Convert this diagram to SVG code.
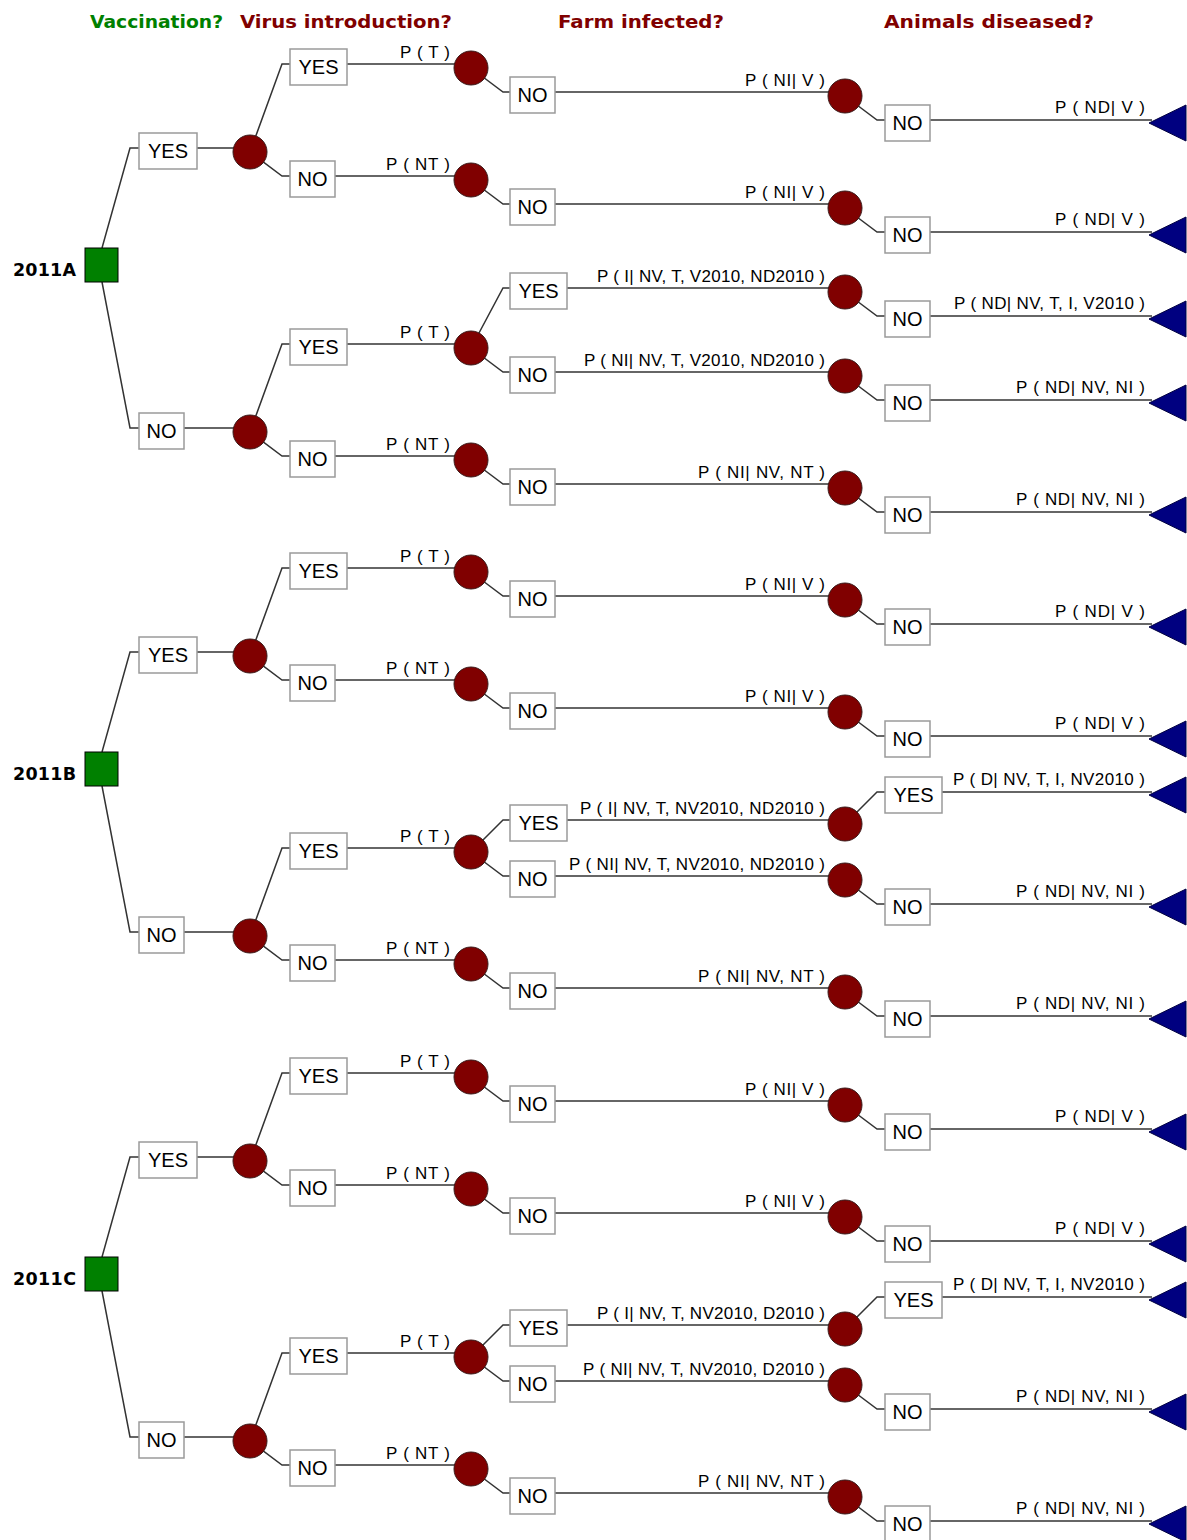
<svg xmlns="http://www.w3.org/2000/svg" width="1187" height="1540" viewBox="0 0 1187 1540">
<style>
.ln{fill:none;stroke:#333;stroke-width:1.5}
.bx{fill:#fff;stroke:#9a9a9a;stroke-width:1.5}
.ch{fill:#800000;stroke:#3a1a1a;stroke-width:1}
.dc{fill:#008000;stroke:#000;stroke-width:1}
.tm{fill:#000080;stroke:#000040;stroke-width:1}
.bt{font-family:"Liberation Sans",Arial,sans-serif;font-size:20px;text-anchor:middle;fill:#000}
.pl{font-family:"Liberation Sans",Arial,sans-serif;font-size:17px;fill:#000}
.hd{font-family:"DejaVu Sans",Verdana,sans-serif;font-weight:bold;font-size:17px}
.yr{font-family:"DejaVu Sans",Verdana,sans-serif;font-weight:bold;font-size:17.5px;fill:#000}
</style>
<defs>
<path id="tri" class="tm" d="M1149,3 L1186,-15 L1186,21 Z"/>
</defs>
<rect width="1187" height="1540" fill="#fff"/>
<g id="headers">
<text class="hd" x="90" y="28" fill="#008000" textLength="133" lengthAdjust="spacingAndGlyphs">Vaccination?</text>
<text class="hd" x="240" y="28" fill="#800000" textLength="212" lengthAdjust="spacingAndGlyphs">Virus introduction?</text>
<text class="hd" x="558" y="28" fill="#800000" textLength="166" lengthAdjust="spacingAndGlyphs">Farm infected?</text>
<text class="hd" x="884" y="28" fill="#800000" textLength="210" lengthAdjust="spacingAndGlyphs">Animals diseased?</text>
</g>

<!-- ================= TREE A ================= -->
<g id="treeA">
<g id="A-connectors">
<polyline class="ln" points="102,248 130,148 139,148"/>
<line class="ln" x1="197" y1="148" x2="250" y2="148"/>
<polyline class="ln" points="102,282 130,428 139,428"/>
<line class="ln" x1="184" y1="428" x2="250" y2="428"/>
<polyline class="ln" points="250,152 282,64 290,64"/>
<line class="ln" x1="347" y1="64" x2="471" y2="64"/>
<polyline class="ln" points="250,152 282,176 290,176"/>
<line class="ln" x1="335" y1="176" x2="471" y2="176"/>
<polyline class="ln" points="471,68 503,92 510,92"/>
<line class="ln" x1="555" y1="92" x2="845" y2="92"/>
<polyline class="ln" points="845,96 877,120 885,120"/>
<line class="ln" x1="930" y1="120" x2="1152" y2="120"/>
<polyline class="ln" points="471,180 503,204 510,204"/>
<line class="ln" x1="555" y1="204" x2="845" y2="204"/>
<polyline class="ln" points="845,208 877,232 885,232"/>
<line class="ln" x1="930" y1="232" x2="1152" y2="232"/>
<polyline class="ln" points="250,432 282,344 290,344"/>
<line class="ln" x1="347" y1="344" x2="471" y2="344"/>
<polyline class="ln" points="250,432 282,456 290,456"/>
<line class="ln" x1="335" y1="456" x2="471" y2="456"/>
<polyline class="ln" points="471,348 503,288 510,288"/>
<line class="ln" x1="567" y1="288" x2="845" y2="288"/>
<polyline class="ln" points="845,292 877,316 885,316"/>
<line class="ln" x1="930" y1="316" x2="1152" y2="316"/>
<polyline class="ln" points="471,348 503,372 510,372"/>
<line class="ln" x1="555" y1="372" x2="845" y2="372"/>
<polyline class="ln" points="845,376 877,400 885,400"/>
<line class="ln" x1="930" y1="400" x2="1152" y2="400"/>
<polyline class="ln" points="471,460 503,484 510,484"/>
<line class="ln" x1="555" y1="484" x2="845" y2="484"/>
<polyline class="ln" points="845,488 877,512 885,512"/>
<line class="ln" x1="930" y1="512" x2="1152" y2="512"/>
<text class="pl" x="400" y="58" textLength="50">P ( T )</text>
<text class="pl" x="386" y="170" textLength="64">P ( NT )</text>
<text class="pl" x="745" y="86" textLength="80">P ( NI| V )</text>
<text class="pl" x="1055" y="113" textLength="90">P ( ND| V )</text>
<text class="pl" x="745" y="198" textLength="80">P ( NI| V )</text>
<text class="pl" x="1055" y="225" textLength="90">P ( ND| V )</text>
<text class="pl" x="400" y="338" textLength="50">P ( T )</text>
<text class="pl" x="386" y="450" textLength="64">P ( NT )</text>
<text class="pl" x="597" y="282" textLength="228">P ( I| NV, T, V2010, ND2010 )</text>
<text class="pl" x="954" y="309" textLength="191">P ( ND| NV, T, I, V2010 )</text>
<text class="pl" x="584" y="366" textLength="241">P ( NI| NV, T, V2010, ND2010 )</text>
<text class="pl" x="1016" y="393" textLength="129">P ( ND| NV, NI )</text>
<text class="pl" x="698" y="478" textLength="127">P ( NI| NV, NT )</text>
<text class="pl" x="1016" y="505" textLength="129">P ( ND| NV, NI )</text>
</g>
<g id="A-root"><rect class="dc" x="85" y="248" width="33" height="34"/><text class="yr" x="13" y="276" textLength="63">2011A</text></g>
<g id="A-vyes"><rect class="bx" x="139" y="133" width="58" height="36"/><text class="bt" x="168" y="158">YES</text></g>
<g id="A-vno"><rect class="bx" x="139" y="413" width="45" height="36"/><text class="bt" x="161.5" y="438">NO</text></g>
<g id="A-c1"><circle class="ch" cx="250" cy="152" r="17"/></g>
<g id="A-c1b"><circle class="ch" cx="250" cy="432" r="17"/></g>
<g id="A-tyes1"><rect class="bx" x="290" y="49" width="57" height="36"/><text class="bt" x="318.5" y="74">YES</text></g>
<g id="A-tno1"><rect class="bx" x="290" y="161" width="45" height="36"/><text class="bt" x="312.5" y="186">NO</text></g>
<g id="A-tyes2"><rect class="bx" x="290" y="329" width="57" height="36"/><text class="bt" x="318.5" y="354">YES</text></g>
<g id="A-tno2"><rect class="bx" x="290" y="441" width="45" height="36"/><text class="bt" x="312.5" y="466">NO</text></g>
<g id="A-c2a"><circle class="ch" cx="471" cy="68" r="17"/></g>
<g id="A-c2b"><circle class="ch" cx="471" cy="180" r="17"/></g>
<g id="A-c2c"><circle class="ch" cx="471" cy="348" r="17"/></g>
<g id="A-c2d"><circle class="ch" cx="471" cy="460" r="17"/></g>
<g id="A-ino1"><rect class="bx" x="510" y="77" width="45" height="36"/><text class="bt" x="532.5" y="102">NO</text></g>
<g id="A-ino2"><rect class="bx" x="510" y="189" width="45" height="36"/><text class="bt" x="532.5" y="214">NO</text></g>
<g id="A-iyes3"><rect class="bx" x="510" y="273" width="57" height="36"/><text class="bt" x="538.5" y="298">YES</text></g>
<g id="A-ino3"><rect class="bx" x="510" y="357" width="45" height="36"/><text class="bt" x="532.5" y="382">NO</text></g>
<g id="A-ino4"><rect class="bx" x="510" y="469" width="45" height="36"/><text class="bt" x="532.5" y="494">NO</text></g>
<g id="A-c3a"><circle class="ch" cx="845" cy="96" r="17"/></g>
<g id="A-c3b"><circle class="ch" cx="845" cy="208" r="17"/></g>
<g id="A-c3c"><circle class="ch" cx="845" cy="292" r="17"/></g>
<g id="A-c3d"><circle class="ch" cx="845" cy="376" r="17"/></g>
<g id="A-c3e"><circle class="ch" cx="845" cy="488" r="17"/></g>
<g id="A-dno1"><rect class="bx" x="885" y="105" width="45" height="36"/><text class="bt" x="907.5" y="130">NO</text></g>
<g id="A-dno2"><rect class="bx" x="885" y="217" width="45" height="36"/><text class="bt" x="907.5" y="242">NO</text></g>
<g id="A-dno3"><rect class="bx" x="885" y="301" width="45" height="36"/><text class="bt" x="907.5" y="326">NO</text></g>
<g id="A-dno4"><rect class="bx" x="885" y="385" width="45" height="36"/><text class="bt" x="907.5" y="410">NO</text></g>
<g id="A-dno5"><rect class="bx" x="885" y="497" width="45" height="36"/><text class="bt" x="907.5" y="522">NO</text></g>
<g id="A-t1"><use href="#tri" y="120"/></g>
<g id="A-t2"><use href="#tri" y="232"/></g>
<g id="A-t3"><use href="#tri" y="316"/></g>
<g id="A-t4"><use href="#tri" y="400"/></g>
<g id="A-t5"><use href="#tri" y="512"/></g>
</g>

<!-- ================= TREE B ================= -->
<g id="treeB" transform="translate(0,504)">
<g id="B-connectors">
<polyline class="ln" points="102,248 130,148 139,148"/>
<line class="ln" x1="197" y1="148" x2="250" y2="148"/>
<polyline class="ln" points="102,282 130,428 139,428"/>
<line class="ln" x1="184" y1="428" x2="250" y2="428"/>
<polyline class="ln" points="250,152 282,64 290,64"/>
<line class="ln" x1="347" y1="64" x2="471" y2="64"/>
<polyline class="ln" points="250,152 282,176 290,176"/>
<line class="ln" x1="335" y1="176" x2="471" y2="176"/>
<polyline class="ln" points="471,68 503,92 510,92"/>
<line class="ln" x1="555" y1="92" x2="845" y2="92"/>
<polyline class="ln" points="845,96 877,120 885,120"/>
<line class="ln" x1="930" y1="120" x2="1152" y2="120"/>
<polyline class="ln" points="471,180 503,204 510,204"/>
<line class="ln" x1="555" y1="204" x2="845" y2="204"/>
<polyline class="ln" points="845,208 877,232 885,232"/>
<line class="ln" x1="930" y1="232" x2="1152" y2="232"/>
<polyline class="ln" points="250,432 282,344 290,344"/>
<line class="ln" x1="347" y1="344" x2="471" y2="344"/>
<polyline class="ln" points="250,432 282,456 290,456"/>
<line class="ln" x1="335" y1="456" x2="471" y2="456"/>
<polyline class="ln" points="471,348 503,316 510,316"/>
<line class="ln" x1="567" y1="316" x2="845" y2="316"/>
<polyline class="ln" points="845,320 877,288 885,288"/>
<line class="ln" x1="942" y1="288" x2="1152" y2="288"/>
<polyline class="ln" points="471,348 503,372 510,372"/>
<line class="ln" x1="555" y1="372" x2="845" y2="372"/>
<polyline class="ln" points="845,376 877,400 885,400"/>
<line class="ln" x1="930" y1="400" x2="1152" y2="400"/>
<polyline class="ln" points="471,460 503,484 510,484"/>
<line class="ln" x1="555" y1="484" x2="845" y2="484"/>
<polyline class="ln" points="845,488 877,512 885,512"/>
<line class="ln" x1="930" y1="512" x2="1152" y2="512"/>
<text class="pl" x="400" y="58" textLength="50">P ( T )</text>
<text class="pl" x="386" y="170" textLength="64">P ( NT )</text>
<text class="pl" x="745" y="86" textLength="80">P ( NI| V )</text>
<text class="pl" x="1055" y="113" textLength="90">P ( ND| V )</text>
<text class="pl" x="745" y="198" textLength="80">P ( NI| V )</text>
<text class="pl" x="1055" y="225" textLength="90">P ( ND| V )</text>
<text class="pl" x="400" y="338" textLength="50">P ( T )</text>
<text class="pl" x="386" y="450" textLength="64">P ( NT )</text>
<text class="pl" x="580" y="310" textLength="245">P ( I| NV, T, NV2010, ND2010 )</text>
<text class="pl" x="953" y="281" textLength="192">P ( D| NV, T, I, NV2010 )</text>
<text class="pl" x="569" y="366" textLength="256">P ( NI| NV, T, NV2010, ND2010 )</text>
<text class="pl" x="1016" y="393" textLength="129">P ( ND| NV, NI )</text>
<text class="pl" x="698" y="478" textLength="127">P ( NI| NV, NT )</text>
<text class="pl" x="1016" y="505" textLength="129">P ( ND| NV, NI )</text>
</g>
<g id="B-root"><rect class="dc" x="85" y="248" width="33" height="34"/><text class="yr" x="13" y="276" textLength="63">2011B</text></g>
<g id="B-vyes"><rect class="bx" x="139" y="133" width="58" height="36"/><text class="bt" x="168" y="158">YES</text></g>
<g id="B-vno"><rect class="bx" x="139" y="413" width="45" height="36"/><text class="bt" x="161.5" y="438">NO</text></g>
<g id="B-c1"><circle class="ch" cx="250" cy="152" r="17"/></g>
<g id="B-c1b"><circle class="ch" cx="250" cy="432" r="17"/></g>
<g id="B-tyes1"><rect class="bx" x="290" y="49" width="57" height="36"/><text class="bt" x="318.5" y="74">YES</text></g>
<g id="B-tno1"><rect class="bx" x="290" y="161" width="45" height="36"/><text class="bt" x="312.5" y="186">NO</text></g>
<g id="B-tyes2"><rect class="bx" x="290" y="329" width="57" height="36"/><text class="bt" x="318.5" y="354">YES</text></g>
<g id="B-tno2"><rect class="bx" x="290" y="441" width="45" height="36"/><text class="bt" x="312.5" y="466">NO</text></g>
<g id="B-c2a"><circle class="ch" cx="471" cy="68" r="17"/></g>
<g id="B-c2b"><circle class="ch" cx="471" cy="180" r="17"/></g>
<g id="B-c2c"><circle class="ch" cx="471" cy="348" r="17"/></g>
<g id="B-c2d"><circle class="ch" cx="471" cy="460" r="17"/></g>
<g id="B-ino1"><rect class="bx" x="510" y="77" width="45" height="36"/><text class="bt" x="532.5" y="102">NO</text></g>
<g id="B-ino2"><rect class="bx" x="510" y="189" width="45" height="36"/><text class="bt" x="532.5" y="214">NO</text></g>
<g id="B-iyes3"><rect class="bx" x="510" y="301" width="57" height="36"/><text class="bt" x="538.5" y="326">YES</text></g>
<g id="B-ino3"><rect class="bx" x="510" y="357" width="45" height="36"/><text class="bt" x="532.5" y="382">NO</text></g>
<g id="B-ino4"><rect class="bx" x="510" y="469" width="45" height="36"/><text class="bt" x="532.5" y="494">NO</text></g>
<g id="B-c3a"><circle class="ch" cx="845" cy="96" r="17"/></g>
<g id="B-c3b"><circle class="ch" cx="845" cy="208" r="17"/></g>
<g id="B-c3c"><circle class="ch" cx="845" cy="320" r="17"/></g>
<g id="B-c3d"><circle class="ch" cx="845" cy="376" r="17"/></g>
<g id="B-c3e"><circle class="ch" cx="845" cy="488" r="17"/></g>
<g id="B-dno1"><rect class="bx" x="885" y="105" width="45" height="36"/><text class="bt" x="907.5" y="130">NO</text></g>
<g id="B-dno2"><rect class="bx" x="885" y="217" width="45" height="36"/><text class="bt" x="907.5" y="242">NO</text></g>
<g id="B-dyes3"><rect class="bx" x="885" y="273" width="57" height="36"/><text class="bt" x="913.5" y="298">YES</text></g>
<g id="B-dno4"><rect class="bx" x="885" y="385" width="45" height="36"/><text class="bt" x="907.5" y="410">NO</text></g>
<g id="B-dno5"><rect class="bx" x="885" y="497" width="45" height="36"/><text class="bt" x="907.5" y="522">NO</text></g>
<g id="B-t1"><use href="#tri" y="120"/></g>
<g id="B-t2"><use href="#tri" y="232"/></g>
<g id="B-t3"><use href="#tri" y="288"/></g>
<g id="B-t4"><use href="#tri" y="400"/></g>
<g id="B-t5"><use href="#tri" y="512"/></g>
</g>

<!-- ================= TREE C ================= -->
<g id="treeC" transform="translate(0,1009)">
<g id="C-connectors">
<polyline class="ln" points="102,248 130,148 139,148"/>
<line class="ln" x1="197" y1="148" x2="250" y2="148"/>
<polyline class="ln" points="102,282 130,428 139,428"/>
<line class="ln" x1="184" y1="428" x2="250" y2="428"/>
<polyline class="ln" points="250,152 282,64 290,64"/>
<line class="ln" x1="347" y1="64" x2="471" y2="64"/>
<polyline class="ln" points="250,152 282,176 290,176"/>
<line class="ln" x1="335" y1="176" x2="471" y2="176"/>
<polyline class="ln" points="471,68 503,92 510,92"/>
<line class="ln" x1="555" y1="92" x2="845" y2="92"/>
<polyline class="ln" points="845,96 877,120 885,120"/>
<line class="ln" x1="930" y1="120" x2="1152" y2="120"/>
<polyline class="ln" points="471,180 503,204 510,204"/>
<line class="ln" x1="555" y1="204" x2="845" y2="204"/>
<polyline class="ln" points="845,208 877,232 885,232"/>
<line class="ln" x1="930" y1="232" x2="1152" y2="232"/>
<polyline class="ln" points="250,432 282,344 290,344"/>
<line class="ln" x1="347" y1="344" x2="471" y2="344"/>
<polyline class="ln" points="250,432 282,456 290,456"/>
<line class="ln" x1="335" y1="456" x2="471" y2="456"/>
<polyline class="ln" points="471,348 503,316 510,316"/>
<line class="ln" x1="567" y1="316" x2="845" y2="316"/>
<polyline class="ln" points="845,320 877,288 885,288"/>
<line class="ln" x1="942" y1="288" x2="1152" y2="288"/>
<polyline class="ln" points="471,348 503,372 510,372"/>
<line class="ln" x1="555" y1="372" x2="845" y2="372"/>
<polyline class="ln" points="845,376 877,400 885,400"/>
<line class="ln" x1="930" y1="400" x2="1152" y2="400"/>
<polyline class="ln" points="471,460 503,484 510,484"/>
<line class="ln" x1="555" y1="484" x2="845" y2="484"/>
<polyline class="ln" points="845,488 877,512 885,512"/>
<line class="ln" x1="930" y1="512" x2="1152" y2="512"/>
<text class="pl" x="400" y="58" textLength="50">P ( T )</text>
<text class="pl" x="386" y="170" textLength="64">P ( NT )</text>
<text class="pl" x="745" y="86" textLength="80">P ( NI| V )</text>
<text class="pl" x="1055" y="113" textLength="90">P ( ND| V )</text>
<text class="pl" x="745" y="198" textLength="80">P ( NI| V )</text>
<text class="pl" x="1055" y="225" textLength="90">P ( ND| V )</text>
<text class="pl" x="400" y="338" textLength="50">P ( T )</text>
<text class="pl" x="386" y="450" textLength="64">P ( NT )</text>
<text class="pl" x="597" y="310" textLength="228">P ( I| NV, T, NV2010, D2010 )</text>
<text class="pl" x="953" y="281" textLength="192">P ( D| NV, T, I, NV2010 )</text>
<text class="pl" x="583" y="366" textLength="242">P ( NI| NV, T, NV2010, D2010 )</text>
<text class="pl" x="1016" y="393" textLength="129">P ( ND| NV, NI )</text>
<text class="pl" x="698" y="478" textLength="127">P ( NI| NV, NT )</text>
<text class="pl" x="1016" y="505" textLength="129">P ( ND| NV, NI )</text>
</g>
<g id="C-root"><rect class="dc" x="85" y="248" width="33" height="34"/><text class="yr" x="13" y="276" textLength="63">2011C</text></g>
<g id="C-vyes"><rect class="bx" x="139" y="133" width="58" height="36"/><text class="bt" x="168" y="158">YES</text></g>
<g id="C-vno"><rect class="bx" x="139" y="413" width="45" height="36"/><text class="bt" x="161.5" y="438">NO</text></g>
<g id="C-c1"><circle class="ch" cx="250" cy="152" r="17"/></g>
<g id="C-c1b"><circle class="ch" cx="250" cy="432" r="17"/></g>
<g id="C-tyes1"><rect class="bx" x="290" y="49" width="57" height="36"/><text class="bt" x="318.5" y="74">YES</text></g>
<g id="C-tno1"><rect class="bx" x="290" y="161" width="45" height="36"/><text class="bt" x="312.5" y="186">NO</text></g>
<g id="C-tyes2"><rect class="bx" x="290" y="329" width="57" height="36"/><text class="bt" x="318.5" y="354">YES</text></g>
<g id="C-tno2"><rect class="bx" x="290" y="441" width="45" height="36"/><text class="bt" x="312.5" y="466">NO</text></g>
<g id="C-c2a"><circle class="ch" cx="471" cy="68" r="17"/></g>
<g id="C-c2b"><circle class="ch" cx="471" cy="180" r="17"/></g>
<g id="C-c2c"><circle class="ch" cx="471" cy="348" r="17"/></g>
<g id="C-c2d"><circle class="ch" cx="471" cy="460" r="17"/></g>
<g id="C-ino1"><rect class="bx" x="510" y="77" width="45" height="36"/><text class="bt" x="532.5" y="102">NO</text></g>
<g id="C-ino2"><rect class="bx" x="510" y="189" width="45" height="36"/><text class="bt" x="532.5" y="214">NO</text></g>
<g id="C-iyes3"><rect class="bx" x="510" y="301" width="57" height="36"/><text class="bt" x="538.5" y="326">YES</text></g>
<g id="C-ino3"><rect class="bx" x="510" y="357" width="45" height="36"/><text class="bt" x="532.5" y="382">NO</text></g>
<g id="C-ino4"><rect class="bx" x="510" y="469" width="45" height="36"/><text class="bt" x="532.5" y="494">NO</text></g>
<g id="C-c3a"><circle class="ch" cx="845" cy="96" r="17"/></g>
<g id="C-c3b"><circle class="ch" cx="845" cy="208" r="17"/></g>
<g id="C-c3c"><circle class="ch" cx="845" cy="320" r="17"/></g>
<g id="C-c3d"><circle class="ch" cx="845" cy="376" r="17"/></g>
<g id="C-c3e"><circle class="ch" cx="845" cy="488" r="17"/></g>
<g id="C-dno1"><rect class="bx" x="885" y="105" width="45" height="36"/><text class="bt" x="907.5" y="130">NO</text></g>
<g id="C-dno2"><rect class="bx" x="885" y="217" width="45" height="36"/><text class="bt" x="907.5" y="242">NO</text></g>
<g id="C-dyes3"><rect class="bx" x="885" y="273" width="57" height="36"/><text class="bt" x="913.5" y="298">YES</text></g>
<g id="C-dno4"><rect class="bx" x="885" y="385" width="45" height="36"/><text class="bt" x="907.5" y="410">NO</text></g>
<g id="C-dno5"><rect class="bx" x="885" y="497" width="45" height="36"/><text class="bt" x="907.5" y="522">NO</text></g>
<g id="C-t1"><use href="#tri" y="120"/></g>
<g id="C-t2"><use href="#tri" y="232"/></g>
<g id="C-t3"><use href="#tri" y="288"/></g>
<g id="C-t4"><use href="#tri" y="400"/></g>
<g id="C-t5"><use href="#tri" y="512"/></g>
</g>
</svg>
